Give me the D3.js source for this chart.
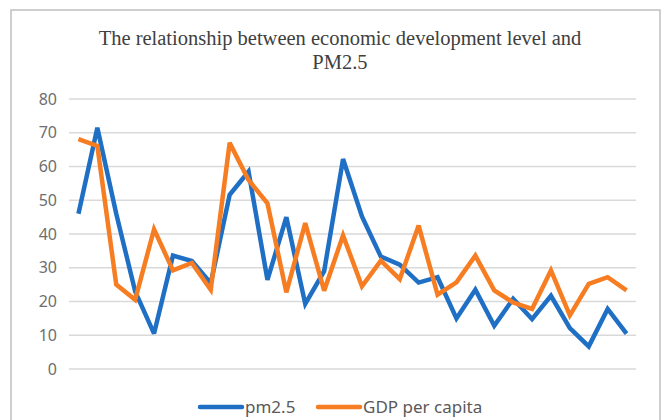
<!DOCTYPE html>
<html>
<head>
<meta charset="utf-8">
<script src="https://cdn.jsdelivr.net/npm/d3@7"></script>
<style>
  body { margin: 0; background: #fff; }
</style>
</head>
<body>
<div id="chart"></div>
<script>
var pm25 = [46, 71.5, 46, 23, 10.5, 33.6, 32, 25.4, 51.6, 58.5, 26.4, 45, 19.3, 29, 62.2, 45.2, 33.3, 30.9, 25.6, 27.2, 15, 23.5, 12.8, 20.8, 14.8, 21.7, 12.1, 6.7, 17.8, 10.5]
var gdp = [68.1, 66.1, 25, 20.5, 41.4, 29.2, 31.4, 23.5, 67, 56, 49.1, 22.7, 43.2, 23.2, 39.6, 24.5, 32.1, 26.6, 42.5, 22, 25.7, 33.6, 23.3, 19.7, 17.8, 29.2, 15.9, 25.2, 27.2, 23.3]
var yTicks = [0, 10, 20, 30, 40, 50, 60, 70, 80]
var seriesNames = ['pm2.5', 'GDP per capita']
var colors = ['#1f6fc4', '#f77d22']

var w = 665
var h = 420
var svg = d3.select('#chart').append('svg').attr('width', w).attr('height', h)

// outer frame
svg.append('rect').attr('x', 11).attr('y', 10).attr('width', 649).attr('height', 420)
  .attr('fill', '#fff').attr('stroke', '#bfbfbf').attr('stroke-width', 1.5)

var titleFont = '"Liberation Serif", "DejaVu Serif", serif'
svg.append('text').attr('x', 340).attr('y', 45).attr('text-anchor', 'middle')
  .style('font-family', titleFont).style('font-size', '20.5px').attr('fill', '#404040')
  .text('The relationship between economic development level and')
svg.append('text').attr('x', 340).attr('y', 69).attr('text-anchor', 'middle')
  .style('font-family', titleFont).style('font-size', '20.5px').attr('fill', '#404040')
  .text('PM2.5')

var x = d3.scaleBand().domain(d3.range(pm25.length)).range([69, 636])
var y = d3.scaleLinear().domain([0, 80]).range([369, 99])

var g = svg.append('g')
g.selectAll('line.grid').data(yTicks).enter().append('line')
  .attr('class', 'grid')
  .attr('x1', 69).attr('x2', 636)
  .attr('y1', function (d) { return y(d) }).attr('y2', function (d) { return y(d) })
  .attr('stroke', '#d9d9d9').attr('stroke-width', 1.5)

var yAxis = d3.axisLeft(y).tickValues(yTicks).tickSize(0).tickPadding(0)
var ya = svg.append('g').attr('transform', 'translate(57,0)').call(yAxis)
ya.select('.domain').remove()
ya.selectAll('text').attr('fill', '#6e6e6e')
  .style('font-family', '"Noto Sans", "Open Sans", sans-serif').style('font-size', '16px')

var line = d3.line()
  .x(function (d, i) { return x(i) + x.bandwidth() / 2 })
  .y(function (d) { return y(d) })

;[pm25, gdp].forEach(function (s, k) {
  g.append('path').attr('d', line(s))
    .attr('fill', 'none').attr('stroke', colors[k]).attr('stroke-width', 4.5)
    .attr('stroke-linejoin', 'miter').attr('stroke-miterlimit', 3)
})

// legend
var legX = [200, 318]
seriesNames.forEach(function (n, k) {
  svg.append('line').attr('x1', legX[k]).attr('x2', legX[k] + 42).attr('y1', 407).attr('y2', 407)
    .attr('stroke', colors[k]).attr('stroke-width', 4.5).attr('stroke-linecap', 'round')
  svg.append('text').attr('x', legX[k] + 45).attr('y', 413)
    .style('font-family', '"Noto Sans", "Open Sans", sans-serif').style('font-size', '17px')
    .attr('fill', '#595959').text(n)
})
</script>
</body>
</html>
